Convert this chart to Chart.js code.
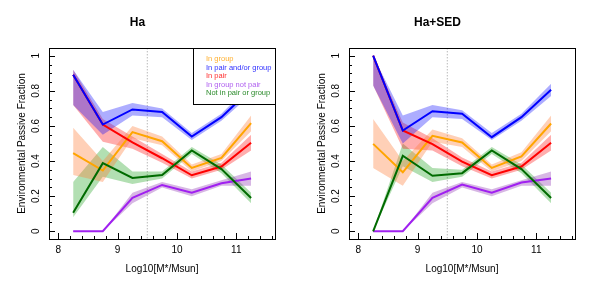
<!DOCTYPE html>
<html lang="en">
<head>
<meta charset="UTF-8">
<title>Environmental Passive Fraction</title>
<script src="https://cdn.jsdelivr.net/npm/chart.js"></script>
<style>
  html, body { margin: 0; padding: 0; background: #fff; }
  .wrap { display: flex; width: 600px; height: 300px; }
  canvas { display: block; }
</style>
</head>
<body>
<div class="wrap">
  <canvas id="haChart" width="300" height="300"></canvas>
  <canvas id="sedChart" width="300" height="300"></canvas>
</div>
<script>
// stellar mass bins (x)
const masses = [8.25, 8.75, 9.25, 9.75, 10.25, 10.75, 11.25];
const seriesNames = ["In group", "In pair and/or group", "In pair", "In group not pair", "Not in pair or group"];
const massCut = 9.5;

// Ha panel
const haGroup = [0.445, 0.346, 0.565, 0.513, 0.361, 0.418, 0.616];
const haGroupLo = [0.32, 0.28, 0.53, 0.49, 0.34, 0.40, 0.57];
const haGroupHi = [0.59, 0.40, 0.60, 0.54, 0.38, 0.44, 0.66];
const haPairOrGroup = [0.892, 0.608, 0.694, 0.679, 0.540, 0.650, 0.81];
const haPairOrGroupLo = [0.72, 0.55, 0.66, 0.65, 0.52, 0.63, 0.78];
const haPairOrGroupHi = [0.92, 0.68, 0.73, 0.70, 0.56, 0.67, 0.84];
const haPair = [0.892, 0.608, 0.506, 0.416, 0.319, 0.369, 0.504];
const haPairLo = [0.72, 0.51, 0.47, 0.39, 0.30, 0.35, 0.46];
const haPairHi = [0.92, 0.64, 0.54, 0.44, 0.34, 0.39, 0.55];
const haGroupNotPair = [0, 0, 0.19, 0.264, 0.220, 0.274, 0.300];
const haGroupNotPairLo = [0, 0, 0.16, 0.25, 0.20, 0.26, 0.26];
const haGroupNotPairHi = [0, 0, 0.22, 0.28, 0.24, 0.29, 0.34];
const haNone = [0.106, 0.388, 0.304, 0.321, 0.460, 0.354, 0.190];
const haNoneLo = [0.08, 0.31, 0.27, 0.30, 0.44, 0.33, 0.16];
const haNoneHi = [0.28, 0.48, 0.34, 0.34, 0.48, 0.38, 0.22];

// Ha+SED panel
const sedGroup = [0.498, 0.336, 0.544, 0.506, 0.361, 0.426, 0.614];
const sedGroupLo = [0.36, 0.26, 0.51, 0.48, 0.34, 0.40, 0.57];
const sedGroupHi = [0.64, 0.40, 0.58, 0.53, 0.38, 0.45, 0.66];
const sedPairOrGroup = [1.0, 0.574, 0.684, 0.669, 0.536, 0.650, 0.806];
const sedPairOrGroupLo = [0.83, 0.50, 0.65, 0.64, 0.52, 0.63, 0.77];
const sedPairOrGroupHi = [1.0, 0.66, 0.72, 0.69, 0.56, 0.67, 0.84];
const sedPair = [1.0, 0.574, 0.496, 0.397, 0.319, 0.369, 0.504];
const sedPairLo = [0.83, 0.47, 0.46, 0.37, 0.30, 0.35, 0.46];
const sedPairHi = [1.0, 0.62, 0.53, 0.42, 0.34, 0.39, 0.55];
const sedGroupNotPair = [0, 0, 0.19, 0.266, 0.22, 0.278, 0.30];
const sedGroupNotPairLo = [0, 0, 0.16, 0.25, 0.20, 0.26, 0.26];
const sedGroupNotPairHi = [0, 0, 0.22, 0.28, 0.24, 0.29, 0.34];
const sedNone = [0, 0.43, 0.316, 0.331, 0.46, 0.354, 0.19];
const sedNoneLo = [0, 0.37, 0.28, 0.31, 0.44, 0.33, 0.16];
const sedNoneHi = [0, 0.50, 0.36, 0.35, 0.48, 0.38, 0.22];

const lineColors = ["#ffa500", "#0000ff", "#ff0000", "#a020f0", "#006b00"];
const bandColors = ["rgba(255,120,50,0.35)", "rgba(0,0,255,0.32)", "rgba(255,0,0,0.32)", "rgba(130,30,170,0.32)", "rgba(0,150,0,0.3)"];
const legendColors = ["#ffb030", "#3030ff", "#ff3030", "#b060f0", "#2a8a2a"];
const lineOrder = [5, 1, 4, 3, 2];

Chart.defaults.font.family = "'Liberation Sans', Arial, sans-serif";
Chart.defaults.color = "#000";

const pts = (ys) => masses.map((m, i) => ({ x: m, y: ys[i] }));

// box, inward ticks and legend
const framePlugin = {
    id: "frame",
    afterDatasetsDraw(chart) {
        const ctx = chart.ctx;
        const a = chart.chartArea;
        if (chart.options.showLegendBox) {
            const w = 82, h = 56;
            const lx = a.right - w, ly = a.top;
            ctx.save();
            ctx.fillStyle = "#fff";
            ctx.fillRect(lx, ly, w, h);
            ctx.strokeStyle = "#000";
            ctx.lineWidth = 1;
            ctx.strokeRect(lx + 0.5, ly + 0.5, w, h);
            ctx.font = "7.5px 'Liberation Sans', Arial, sans-serif";
            ctx.textBaseline = "middle";
            seriesNames.forEach((name, i) => {
                ctx.fillStyle = legendColors[i];
                ctx.fillText(name, lx + 13, ly + 11 + i * 8.6);
            });
            ctx.restore();
        }
    },
    afterDraw(chart) {
        const ctx = chart.ctx;
        const a = chart.chartArea;
        const xs = chart.scales.x, ys = chart.scales.y;
        ctx.save();
        ctx.strokeStyle = "#000";
        ctx.lineWidth = 1;
        ctx.strokeRect(Math.round(a.left) + 0.5, Math.round(a.top) + 0.5,
            Math.round(a.right - a.left), Math.round(a.bottom - a.top));
        ctx.beginPath();
        for (let v = 8; v <= xs.max + 1e-9; v += 0.2) {
            const px = Math.round(xs.getPixelForValue(v)) + 0.5;
            const major = Math.abs(v - Math.round(v)) < 1e-6;
            ctx.moveTo(px, a.bottom);
            ctx.lineTo(px, a.bottom - (major ? 6 : 3));
        }
        for (let v = 0; v <= 1 + 1e-9; v += 0.05) {
            const py = Math.round(ys.getPixelForValue(v)) + 0.5;
            const major = Math.abs(v / 0.2 - Math.round(v / 0.2)) < 1e-6;
            ctx.moveTo(a.left, py);
            ctx.lineTo(a.left + (major ? 6 : 3), py);
        }
        ctx.stroke();
        ctx.restore();
    }
};

function makeChart(id, title, series, showLegendBox) {
    const datasets = [];
    series.forEach((s, i) => {
        datasets.push({
            data: pts(s.hi), fill: "+1", backgroundColor: bandColors[i],
            borderWidth: 0, pointRadius: 0, tension: 0, order: 10 + i
        });
        datasets.push({
            data: pts(s.lo), fill: false, borderWidth: 0,
            pointRadius: 0, tension: 0, order: 10 + i
        });
    });
    series.forEach((s, i) => {
        datasets.push({
            data: pts(s.val), fill: false, borderColor: lineColors[i],
            borderWidth: 2, pointRadius: 0, tension: 0, order: lineOrder[i]
        });
    });
    datasets.push({
        data: [{ x: massCut, y: -0.04 }, { x: massCut, y: 1.04 }],
        borderColor: "#999", borderWidth: 1, borderDash: [1, 2],
        pointRadius: 0, fill: false, order: 30
    });

    return new Chart(document.getElementById(id), {
        type: "line",
        data: { datasets },
        plugins: [framePlugin],
        options: {
            responsive: false,
            animation: false,
            showLegendBox,
            layout: { padding: { left: 0, right: 25, top: 0, bottom: 0 } },
            plugins: {
                legend: { display: false },
                tooltip: { enabled: false },
                title: {
                    display: true, text: title, color: "#000",
                    font: { size: 12, weight: "bold" },
                    padding: { top: 15, bottom: 18.6 }
                }
            },
            scales: {
                x: {
                    type: "linear", min: 7.843, max: 11.653,
                    grid: { display: false, drawTicks: false },
                    border: { display: false },
                    ticks: { stepSize: 1, includeBounds: false, padding: 5, font: { size: 10 }, color: "#000" },
                    title: { display: true, text: "Log10[M*/Msun]", font: { size: 10 }, color: "#000", padding: { top: 25, bottom: 25 } },
                    afterFit: (scale) => { scale.height = 61; }
                },
                y: {
                    min: -0.044, max: 1.044,
                    grid: { display: false, drawTicks: false },
                    border: { display: false },
                    ticks: {
                        stepSize: 0.2, includeBounds: false, padding: 6,
                        minRotation: 90, maxRotation: 90, crossAlign: "center",
                        font: { size: 10 }, color: "#000",
                        callback: (v) => String(+v.toFixed(2))
                    },
                    title: { display: true, text: "Environmental Passive Fraction", font: { size: 10 }, color: "#000", padding: { top: 16, bottom: 16 } },
                    afterFit: (scale) => { scale.width = 49; }
                }
            }
        }
    });
}

makeChart("haChart", "Ha", [
    { val: haGroup, lo: haGroupLo, hi: haGroupHi },
    { val: haPairOrGroup, lo: haPairOrGroupLo, hi: haPairOrGroupHi },
    { val: haPair, lo: haPairLo, hi: haPairHi },
    { val: haGroupNotPair, lo: haGroupNotPairLo, hi: haGroupNotPairHi },
    { val: haNone, lo: haNoneLo, hi: haNoneHi }
], true);

makeChart("sedChart", "Ha+SED", [
    { val: sedGroup, lo: sedGroupLo, hi: sedGroupHi },
    { val: sedPairOrGroup, lo: sedPairOrGroupLo, hi: sedPairOrGroupHi },
    { val: sedPair, lo: sedPairLo, hi: sedPairHi },
    { val: sedGroupNotPair, lo: sedGroupNotPairLo, hi: sedGroupNotPairHi },
    { val: sedNone, lo: sedNoneLo, hi: sedNoneHi }
], false);
</script>
</body>
</html>
